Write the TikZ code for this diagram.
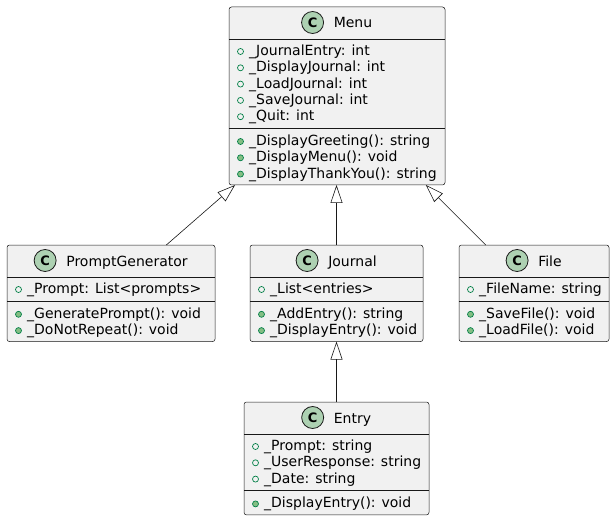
\documentclass[tikz,border=0pt]{standalone}
\usepackage{fontspec}
\setmainfont{DejaVu Sans}
\usetikzlibrary{arrows.meta,calc}
\definecolor{boxfill}{HTML}{F1F1F1}
\definecolor{lineclr}{HTML}{181818}
\definecolor{iconfill}{HTML}{ADD1B2}
\definecolor{visline}{HTML}{038048}
\definecolor{visfill}{HTML}{84BE84}
\tikzset{
  classbox/.style={draw=lineclr, fill=boxfill, line width=0.5pt, rounded corners=2.5pt, inner sep=0pt, outer sep=0pt},
  sepline/.style={draw=lineclr, line width=0.5pt},
  ctitle/.style={anchor=base, inner sep=0pt, font=\fontsize{14}{16}\selectfont},
  cicon/.style={circle, draw=lineclr, fill=iconfill, line width=0.8pt, minimum size=22pt, inner sep=0pt, font=\fontsize{13}{13}\selectfont\bfseries},
  mtxt/.style={anchor=base west, inner sep=0pt, font=\fontsize{14}{16}\selectfont},
  avis/.style={circle, draw=visline, line width=0.7pt, minimum size=6pt, inner sep=0pt},
  mvis/.style={circle, draw=visline, fill=visfill, line width=0.7pt, minimum size=6pt, inner sep=0pt},
  inh/.style={draw=lineclr, line width=0.6pt, -{Triangle[open, length=18pt, width=12pt, line width=0.6pt]}}
}
\begin{document}
\begin{tikzpicture}[x=1pt,y=-1pt]
\useasboundingbox (0,0) rectangle (615,521);
\fill[white] (0,0) rectangle (615,521);

% ---------- Menu ----------
\node[classbox, minimum width=216pt, minimum height=178pt] (menu) at (337,96) {};
\node[ctitle] (menu-t) at (353,28) {Menu};
\node[cicon] (menu-i) at ([xshift=-21pt,yshift=5.5pt]menu-t.base west) {C};
\draw[sepline] (229,39) -- (445,39);
\draw[sepline] (229,128) -- (445,128);
\foreach \t [count=\i] in {{\_JournalEntry: int},{\_DisplayJournal: int},{\_LoadJournal: int},{\_SaveJournal: int},{\_Quit: int}}{
  \node[mtxt] (menu-a\i) at (249,{55.5+16.3*(\i-1)}) {\t};
  \node[avis] (menu-av\i) at ([xshift=-8.5pt,yshift=4pt]menu-a\i.base west) {};
}
\foreach \t [count=\i] in {{\_DisplayGreeting(): string},{\_DisplayMenu(): void},{\_DisplayThankYou(): string}}{
  \node[mtxt] (menu-m\i) at (249,{145.5+16.3*(\i-1)}) {\t};
  \node[mvis] (menu-mv\i) at ([xshift=-8.5pt,yshift=4pt]menu-m\i.base west) {};
}

% ---------- PromptGenerator ----------
\node[classbox, minimum width=208pt, minimum height=96.6pt] (pg) at (111,293.3) {};
\node[ctitle] (pg-t) at (127,266) {PromptGenerator};
\node[cicon] (pg-i) at ([xshift=-21pt,yshift=5.5pt]pg-t.base west) {C};
\draw[sepline] (7,277) -- (215,277);
\draw[sepline] (7,300.8) -- (215,300.8);
\node[mtxt] (pg-a1) at (27,293.5) {\_Prompt: List<prompts>};
\node[avis] (pg-av1) at ([xshift=-8.5pt,yshift=4pt]pg-a1.base west) {};
\foreach \t [count=\i] in {{\_GeneratePrompt(): void},{\_DoNotRepeat(): void}}{
  \node[mtxt] (pg-m\i) at (27,{318.3+16.3*(\i-1)}) {\t};
  \node[mvis] (pg-mv\i) at ([xshift=-8.5pt,yshift=4pt]pg-m\i.base west) {};
}

% ---------- Journal ----------
\node[classbox, minimum width=173pt, minimum height=96.6pt] (jr) at (336.5,293.3) {};
\node[ctitle] (jr-t) at (352.5,266) {Journal};
\node[cicon] (jr-i) at ([xshift=-21pt,yshift=5.5pt]jr-t.base west) {C};
\draw[sepline] (250,277) -- (423,277);
\draw[sepline] (250,300.8) -- (423,300.8);
\node[mtxt] (jr-a1) at (270,293.5) {\_List<entries>};
\node[avis] (jr-av1) at ([xshift=-8.5pt,yshift=4pt]jr-a1.base west) {};
\foreach \t [count=\i] in {{\_AddEntry(): string},{\_DisplayEntry(): void}}{
  \node[mtxt] (jr-m\i) at (270,{318.3+16.3*(\i-1)}) {\t};
  \node[mvis] (jr-mv\i) at ([xshift=-8.5pt,yshift=4pt]jr-m\i.base west) {};
}

% ---------- File ----------
\node[classbox, minimum width=150pt, minimum height=96.6pt] (fl) at (534,293.3) {};
\node[ctitle] (fl-t) at (550,266) {File};
\node[cicon] (fl-i) at ([xshift=-21pt,yshift=5.5pt]fl-t.base west) {C};
\draw[sepline] (459,277) -- (609,277);
\draw[sepline] (459,300.8) -- (609,300.8);
\node[mtxt] (fl-a1) at (479,293.5) {\_FileName: string};
\node[avis] (fl-av1) at ([xshift=-8.5pt,yshift=4pt]fl-a1.base west) {};
\foreach \t [count=\i] in {{\_SaveFile(): void},{\_LoadFile(): void}}{
  \node[mtxt] (fl-m\i) at (479,{318.3+16.3*(\i-1)}) {\t};
  \node[mvis] (fl-mv\i) at ([xshift=-8.5pt,yshift=4pt]fl-m\i.base west) {};
}

% ---------- Entry ----------
\node[classbox, minimum width=185pt, minimum height=112.9pt] (en) at (336.5,458.45) {};
\node[ctitle] (en-t) at (352.5,423) {Entry};
\node[cicon] (en-i) at ([xshift=-21pt,yshift=5.5pt]en-t.base west) {C};
\draw[sepline] (244,434) -- (429,434);
\draw[sepline] (244,490.4) -- (429,490.4);
\foreach \t [count=\i] in {{\_Prompt: string},{\_UserResponse: string},{\_Date: string}}{
  \node[mtxt] (en-a\i) at (264,{450.5+16.3*(\i-1)}) {\t};
  \node[avis] (en-av\i) at ([xshift=-8.5pt,yshift=4pt]en-a\i.base west) {};
}
\node[mtxt] (en-m1) at (264,507.9) {\_DisplayEntry(): void};
\node[mvis] (en-mv1) at ([xshift=-8.5pt,yshift=4pt]en-m1.base west) {};

% ---------- Inheritance ----------
\draw[inh] (pg) -- (menu);
\draw[inh] (jr.north) -- (jr.north |- menu.south);
\draw[inh] (fl) -- (menu);
\draw[inh] (en.north) -- (en.north |- jr.south);
\end{tikzpicture}
\end{document}
